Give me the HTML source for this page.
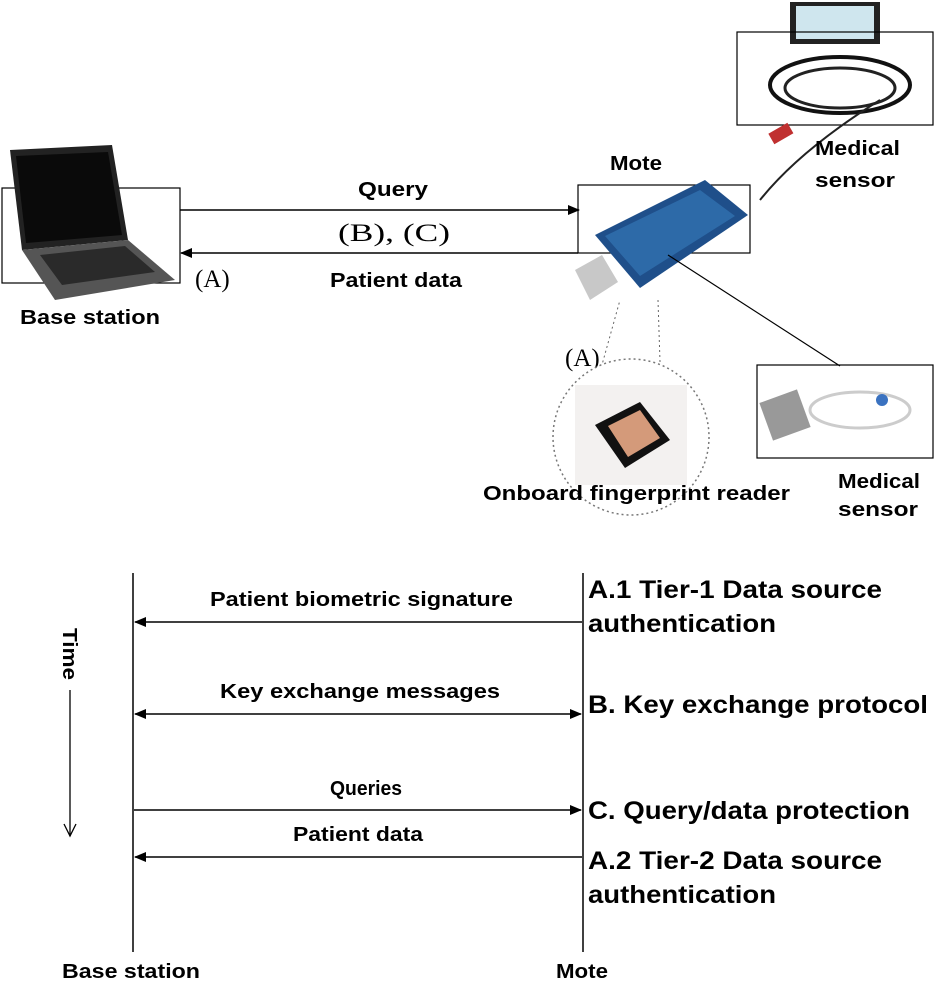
<!DOCTYPE html>
<html><head><meta charset="utf-8"><style>
html,body{margin:0;padding:0;background:#fff;}
svg{display:block;}
.l{font-family:"Liberation Sans",Arial,sans-serif;font-weight:bold;font-size:20px;fill:#000;}
.r{font-family:"Liberation Sans",Arial,sans-serif;font-weight:bold;font-size:25px;fill:#000;}
.s{font-family:"Liberation Serif",serif;font-size:25px;fill:#000;}
</style></head><body>
<svg width="934" height="1000" viewBox="0 0 934 1000" xmlns="http://www.w3.org/2000/svg">
<defs>
<marker id="a" markerWidth="12" markerHeight="10" refX="11" refY="5" orient="auto-start-reverse" markerUnits="userSpaceOnUse">
<path d="M0,0 L12,5 L0,10 Z" fill="#000"/></marker>
</defs>
<!-- laptop -->
<rect x="2" y="188" width="178" height="95" fill="none" stroke="#000" stroke-width="1.2"/>
<polygon points="10,150 112,145 128,240 22,250" fill="#222"/>
<polygon points="16,156 108,152 122,235 26,243" fill="#0a0a0a"/>
<polygon points="22,250 128,240 175,280 55,300" fill="#555"/>
<polygon points="40,255 125,246 155,272 62,285" fill="#2a2a2a"/>
<text class="l" x="20" y="324" textLength="140" lengthAdjust="spacingAndGlyphs">Base station</text>
<!-- top arrows -->
<line x1="180" y1="210" x2="579" y2="210" stroke="#000" stroke-width="1.5" marker-end="url(#a)"/>
<line x1="578" y1="253" x2="181" y2="253" stroke="#000" stroke-width="1.5" marker-end="url(#a)"/>
<text class="l" x="358" y="196" textLength="70" lengthAdjust="spacingAndGlyphs">Query</text>
<text class="s" x="338" y="241" textLength="112" lengthAdjust="spacingAndGlyphs">(B), (C)</text>
<text class="s" x="195" y="287">(A)</text>
<text class="l" x="330" y="287" textLength="132" lengthAdjust="spacingAndGlyphs">Patient data</text>
<!-- mote -->
<text class="l" x="610" y="170" textLength="52" lengthAdjust="spacingAndGlyphs">Mote</text>
<rect x="578" y="185" width="172" height="68" fill="none" stroke="#000" stroke-width="1.2"/>
<polygon points="595,235 705,180 748,215 640,288" fill="#1f4f8a"/>
<polygon points="605,236 700,190 735,216 640,276" fill="#2d6aa8"/>
<polygon points="575,270 602,255 618,282 590,300" fill="#c8c8c8"/>
<!-- medical sensor top -->
<rect x="790" y="2" width="90" height="42" fill="#222"/>
<rect x="796" y="6" width="78" height="33" fill="#cfe6ee"/>
<rect x="737" y="32" width="196" height="93" fill="none" stroke="#000" stroke-width="1.2"/>
<ellipse cx="840" cy="85" rx="70" ry="28" fill="none" stroke="#111" stroke-width="4"/>
<ellipse cx="840" cy="88" rx="55" ry="20" fill="none" stroke="#222" stroke-width="3"/>
<path d="M880,100 Q800,150 760,200" stroke="#222" stroke-width="2" fill="none"/>
<rect x="770" y="128" width="22" height="12" fill="#c03030" transform="rotate(-30 780 134)"/>
<text class="l" x="815" y="155" textLength="85" lengthAdjust="spacingAndGlyphs">Medical</text>
<text class="l" x="815" y="187" textLength="80" lengthAdjust="spacingAndGlyphs">sensor</text>
<!-- fingerprint -->
<text class="s" x="565" y="366">(A)</text>
<line x1="600" y1="372" x2="620" y2="300" stroke="#666" stroke-dasharray="2,3"/>
<line x1="660" y1="362" x2="658" y2="300" stroke="#666" stroke-dasharray="2,3"/>
<circle cx="631" cy="437" r="78" fill="#fff" stroke="#777" stroke-width="1.5" stroke-dasharray="2,3"/>
<rect x="575" y="385" width="112" height="100" fill="#f3f1f0"/>
<polygon points="595,425 640,402 670,440 625,468" fill="#111"/>
<polygon points="608,426 640,410 660,438 628,457" fill="#d49a7a"/>
<text class="l" x="483" y="500" textLength="307" lengthAdjust="spacingAndGlyphs">Onboard fingerprint reader</text>
<!-- medical sensor bottom -->
<line x1="668" y1="255" x2="840" y2="366" stroke="#000" stroke-width="1.2"/>
<rect x="757" y="365" width="176" height="93" fill="none" stroke="#000" stroke-width="1.2"/>
<rect x="765" y="395" width="40" height="40" fill="#999" transform="rotate(-20 785 415)"/>
<ellipse cx="860" cy="410" rx="50" ry="18" fill="none" stroke="#ccc" stroke-width="3"/>
<circle cx="882" cy="400" r="6" fill="#3a72c0"/>
<text class="l" x="838" y="488" textLength="82" lengthAdjust="spacingAndGlyphs">Medical</text>
<text class="l" x="838" y="516" textLength="80" lengthAdjust="spacingAndGlyphs">sensor</text>
<!-- timeline -->
<line x1="133" y1="573" x2="133" y2="952" stroke="#000" stroke-width="1.5"/>
<line x1="583" y1="573" x2="583" y2="952" stroke="#000" stroke-width="1.5"/>
<text class="l" transform="translate(63,628) rotate(90)" textLength="52" lengthAdjust="spacingAndGlyphs">Time</text>
<line x1="70" y1="690" x2="70" y2="836" stroke="#000" stroke-width="1.3"/>
<path d="M64,824 L70,836 L76,824" stroke="#000" stroke-width="1.3" fill="none"/>
<text class="l" x="210" y="606" textLength="303" lengthAdjust="spacingAndGlyphs">Patient biometric signature</text>
<line x1="582" y1="622" x2="135" y2="622" stroke="#000" stroke-width="1.5" marker-end="url(#a)"/>
<text class="l" x="220" y="698" textLength="280" lengthAdjust="spacingAndGlyphs">Key exchange messages</text>
<line x1="135" y1="714" x2="581" y2="714" stroke="#000" stroke-width="1.5" marker-end="url(#a)" marker-start="url(#a)"/>
<text class="l" x="330" y="795" textLength="72" lengthAdjust="spacingAndGlyphs">Queries</text>
<line x1="134" y1="810" x2="581" y2="810" stroke="#000" stroke-width="1.5" marker-end="url(#a)"/>
<text class="l" x="293" y="841" textLength="130" lengthAdjust="spacingAndGlyphs">Patient data</text>
<line x1="582" y1="857" x2="135" y2="857" stroke="#000" stroke-width="1.5" marker-end="url(#a)"/>
<text class="r" x="588" y="598" textLength="294" lengthAdjust="spacingAndGlyphs">A.1 Tier-1 Data source</text>
<text class="r" x="588" y="632" textLength="188" lengthAdjust="spacingAndGlyphs">authentication</text>
<text class="r" x="588" y="713" textLength="340" lengthAdjust="spacingAndGlyphs">B. Key exchange protocol</text>
<text class="r" x="588" y="819" textLength="322" lengthAdjust="spacingAndGlyphs">C. Query/data protection</text>
<text class="r" x="588" y="869" textLength="294" lengthAdjust="spacingAndGlyphs">A.2 Tier-2 Data source</text>
<text class="r" x="588" y="903" textLength="188" lengthAdjust="spacingAndGlyphs">authentication</text>
<text class="l" x="62" y="978" textLength="138" lengthAdjust="spacingAndGlyphs">Base station</text>
<text class="l" x="556" y="978" textLength="52" lengthAdjust="spacingAndGlyphs">Mote</text>
</svg>
</body></html>
